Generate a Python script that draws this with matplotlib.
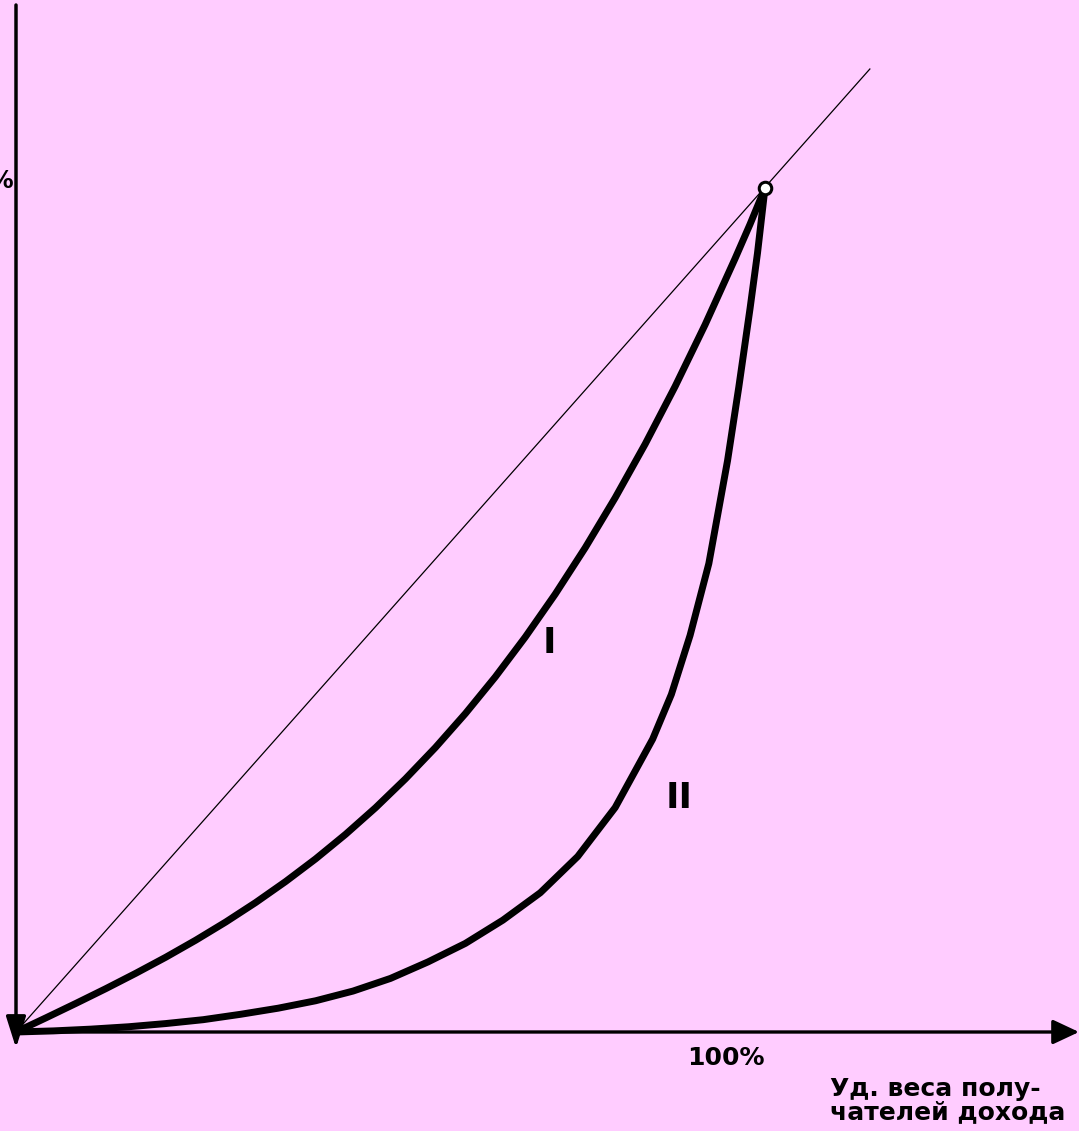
import matplotlib.pyplot as plt
import numpy as np

# Lorenz-type curves, share of population (x) vs share of income (y), 1.0 = 100%
diag_x = [0.0, 1.14]
diag_y = [0.0, 1.141]

curve1_x = [0.0, 0.04, 0.08, 0.12, 0.16, 0.20, 0.24, 0.28, 0.32, 0.36, 0.40, 0.44,
            0.48, 0.52, 0.56, 0.60, 0.64, 0.68, 0.72, 0.76, 0.80, 0.84, 0.88, 0.92,
            0.96, 0.98, 1.0]
curve1_y = [0.0, 0.0168, 0.0339, 0.0514, 0.0696, 0.0886, 0.1088, 0.1303, 0.1534,
            0.1783, 0.2051, 0.2342, 0.2657, 0.3000, 0.3371, 0.3773, 0.4208, 0.4680,
            0.5189, 0.5738, 0.6330, 0.6966, 0.7649, 0.8380, 0.9163, 0.957, 1.0]

curve2_x = [0.0, 0.05, 0.10, 0.15, 0.20, 0.25, 0.30, 0.35, 0.40, 0.45, 0.50, 0.55,
            0.60, 0.65, 0.70, 0.75, 0.80, 0.85, 0.875, 0.90, 0.925, 0.95, 0.965,
            0.98, 0.99, 1.0]
curve2_y = [0.0, 0.0013, 0.0034, 0.0062, 0.0100, 0.0146, 0.0210, 0.0282, 0.0370,
            0.0485, 0.0635, 0.083, 0.105, 0.1325, 0.165, 0.208, 0.266, 0.347, 0.400,
            0.470, 0.555, 0.677, 0.764, 0.857, 0.923, 1.0]

end_point = (1.0, 1.0)

x_label_lines = ["Уд. веса полу-", "чателей дохода"]
tick_100 = "100%"
y_label = "%"
curve_labels = ["I", "II"]

# pixel -> data helpers (origin at px (16, 1032), 100% at px (765, 188))
X0, Y0, SX, SY = 16, 1032, 749, 844


def px(x, y):
    return ((x - X0) / SX, (Y0 - y) / SY)


W, H = 1079, 1131
fig = plt.figure(figsize=(W / 100, H / 100), dpi=100)
fig.patch.set_facecolor("#ffccff")
ax = fig.add_axes([0, 0, 1, 1])
ax.set_facecolor("#ffccff")
ax.set_xlim(px(0, 0)[0], px(W, 0)[0])
ax.set_ylim(px(0, H)[1], px(0, 0)[1])
ax.axis("off")

bold = dict(family="DejaVu Sans", weight="bold", color="black")

# axes with arrows
ax.annotate("", xy=px(1079, 1032), xytext=px(16, 1032),
            arrowprops=dict(arrowstyle="-|>,head_length=1.6,head_width=0.75",
                            lw=2.4, color="black", shrinkA=0, shrinkB=0))
ax.annotate("", xy=px(16, 1048), xytext=px(16, 5),
            arrowprops=dict(arrowstyle="-|>,head_length=1.9,head_width=0.6",
                            lw=2.5, color="black", shrinkA=0, shrinkB=0))

ax.plot(diag_x, diag_y, color="black", lw=0.9)
ax.plot(curve1_x, curve1_y, color="black", lw=5, solid_capstyle="round",
        solid_joinstyle="round")
ax.plot(curve2_x, curve2_y, color="black", lw=5, solid_capstyle="round",
        solid_joinstyle="round")
ax.plot(*end_point, "o", ms=9, mfc="white", mec="black", mew=2.2, zorder=5)

ax.text(*px(13, 188), y_label, ha="right", va="baseline", fontsize=17, **bold)
ax.text(*px(726, 1065), tick_100, ha="center", va="baseline", fontsize=18, **bold)
ax.text(*px(830, 1096), x_label_lines[0], ha="left", va="baseline", fontsize=18, **bold)
ax.text(*px(830, 1119), x_label_lines[1], ha="left", va="baseline", fontsize=18, **bold)
ax.text(*px(549, 653), curve_labels[0], ha="center", va="baseline", fontsize=26, **bold)
ax.text(*px(679, 808), curve_labels[1], ha="center", va="baseline", fontsize=26, **bold)

fig.savefig("out.png", dpi=100, facecolor=fig.get_facecolor())
